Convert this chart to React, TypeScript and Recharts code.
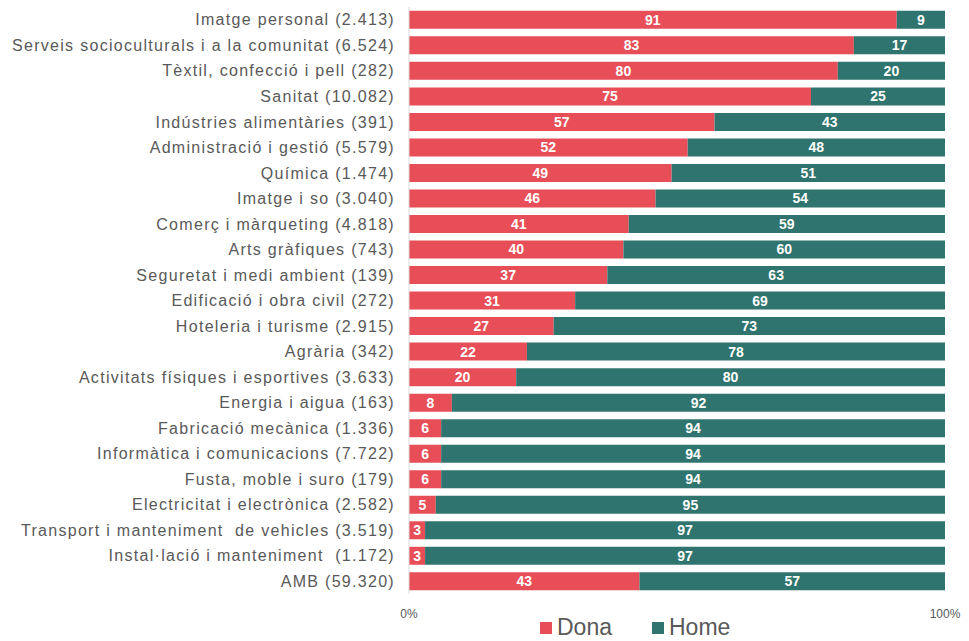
import { Bar, BarChart, LabelList, XAxis, YAxis } from "recharts";

const categories = [
	"Imatge personal (2.413)",
	"Serveis socioculturals i a la comunitat (6.524)",
	"Tèxtil, confecció i pell (282)",
	"Sanitat (10.082)",
	"Indústries alimentàries (391)",
	"Administració i gestió (5.579)",
	"Química (1.474)",
	"Imatge i so (3.040)",
	"Comerç i màrqueting (4.818)",
	"Arts gràfiques (743)",
	"Seguretat i medi ambient (139)",
	"Edificació i obra civil (272)",
	"Hoteleria i turisme (2.915)",
	"Agrària (342)",
	"Activitats físiques i esportives (3.633)",
	"Energia i aigua (163)",
	"Fabricació mecànica (1.336)",
	"Informàtica i comunicacions (7.722)",
	"Fusta, moble i suro (179)",
	"Electricitat i electrònica (2.582)",
	"Transport i manteniment \u00a0de vehicles (3.519)",
	"Instal·lació i manteniment \u00a0(1.172)",
	"AMB (59.320)",
];

const dona = [91, 83, 80, 75, 57, 52, 49, 46, 41, 40, 37, 31, 27, 22, 20, 8, 6, 6, 6, 5, 3, 3, 43];
const home = [9, 17, 20, 25, 43, 48, 51, 54, 59, 60, 63, 69, 73, 78, 80, 92, 94, 94, 94, 95, 97, 97, 57];

const xTicks = [0, 100];

const RED = "#E84E57";
const TEAL = "#2F746E";

const data = categories.map((name, i) => ({ name, dona: dona[i], home: home[i] }));

const labelStyle = {
	fill: "#ffffff",
	fontSize: 14,
	fontWeight: 700,
	fontFamily: "'Liberation Sans Narrow', 'Arial Narrow', 'Liberation Sans', Arial, sans-serif",
};

export default function App() {
	return (
		<div style={{ position: "absolute", left: 0, top: 0, width: 969, height: 641, background: "#fff" }}>
			<BarChart
				width={969}
				height={641}
				data={data}
				layout="vertical"
				margin={{ top: 7, right: 24, bottom: 17, left: 0 }}
				barCategoryGap="15%"
			>
				<XAxis
					type="number"
					domain={[0, 100]}
					ticks={xTicks}
					tickFormatter={(v) => `${v}%`}
					axisLine={false}
					tickLine={false}
					tick={{ fill: "#595959", fontSize: 12, fontFamily: "'Liberation Sans Narrow', 'Liberation Sans', Arial, sans-serif" }}
					tickMargin={9}
					height={30}
				/>
				<YAxis
					type="category"
					dataKey="name"
					width={409}
					interval={0}
					tickLine={false}
					axisLine={{ stroke: "#d9d9d9" }}
					tickMargin={8}
					tick={{ fill: "#595959", fontSize: 16, letterSpacing: 1.3, fontFamily: "'Liberation Sans', Arial, sans-serif" }}
				/>
				<Bar dataKey="dona" stackId="a" fill={RED} isAnimationActive={false}>
					<LabelList dataKey="dona" position="center" style={labelStyle} />
				</Bar>
				<Bar dataKey="home" stackId="a" fill={TEAL} isAnimationActive={false}>
					<LabelList dataKey="home" position="center" style={labelStyle} />
				</Bar>
			</BarChart>
			<div
				style={{
					position: "absolute",
					top: 615,
					left: 540,
					display: "flex",
					gap: 40,
					fontFamily: "'Liberation Sans', Arial, sans-serif",
					fontSize: 23,
					color: "#595959",
					lineHeight: "25px",
				}}
			>
				<div style={{ display: "flex", alignItems: "center", gap: 5 }}>
					<span style={{ width: 12, height: 12, background: RED, display: "inline-block" }} />
					Dona
				</div>
				<div style={{ display: "flex", alignItems: "center", gap: 5 }}>
					<span style={{ width: 12, height: 12, background: TEAL, display: "inline-block" }} />
					Home
				</div>
			</div>
		</div>
	);
}
